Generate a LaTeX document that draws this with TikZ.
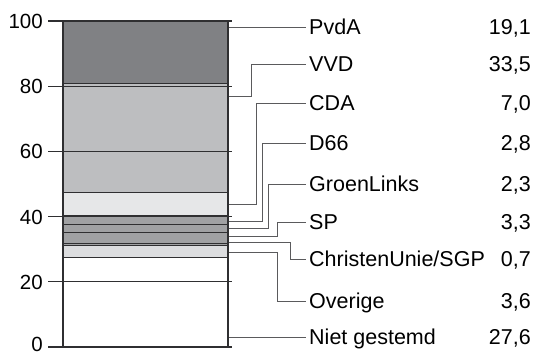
\documentclass[tikz,border=0pt]{standalone}
\usepackage{fontspec}
\setmainfont{Liberation Sans}
\definecolor{cPvdA}{HTML}{808184}
\definecolor{cVVD}{HTML}{BDBEC0}
\definecolor{cCDA}{HTML}{E6E7E8}
\definecolor{cMid}{HTML}{A0A1A3}
\definecolor{cOv}{HTML}{DCDDDF}
\definecolor{cLine}{HTML}{2F2F31}
\definecolor{cConn}{HTML}{5A5A5C}
\begin{document}
\begin{tikzpicture}[x=1pt,y=-1pt,
  seg/.style={draw=cLine,line width=1pt},
  tick/.style={draw=cLine,line width=1.3pt},
  conn/.style={draw=cConn,line width=1pt},
  lab/.style={anchor=west,inner sep=0pt,font=\fontsize{21.5}{21.5}\selectfont,text height=15pt,text depth=0pt},
  val/.style={anchor=east,inner sep=0pt,font=\fontsize{21.5}{21.5}\selectfont,text height=15pt,text depth=0pt},
  axl/.style={anchor=east,inner sep=0pt,font=\fontsize{20.5}{20.5}\selectfont,text height=15pt,text depth=0pt}]
\useasboundingbox (0,0) rectangle (534,354);
% v -> 347 - 3.26 v
\def\Y#1{\fpeval{347-3.26*(#1)}}
% segments
\fill[white]  (63,\Y{0})    rectangle (228,\Y{27.6});
\fill[cOv]    (63,\Y{27.6}) rectangle (228,\Y{31.2});
\fill[cMid]   (63,\Y{31.2}) rectangle (228,\Y{40.3});
\fill[cCDA]   (63,\Y{40.3}) rectangle (228,\Y{47.3});
\fill[cVVD]   (63,\Y{47.3}) rectangle (228,\Y{80.8});
\fill[cPvdA]  (63,\Y{80.8}) rectangle (228,\Y{100});
\foreach \v in {27.6,31.2,31.9,35.2,37.5,40.3,47.3,80.8}
  \draw[seg] (63,\Y{\v}) -- (228,\Y{\v});
\foreach \v in {20,40,60,80}
  \draw[tick] (48,\Y{\v}) -- (232,\Y{\v});
\draw[tick] (48,\Y{100}) -- (232,\Y{100});
\draw[draw=cLine,line width=2pt] (48,\Y{0}) -- (232,\Y{0});
\draw[draw=cLine,line width=1.3pt] (63,\Y{0}) -- (63,\Y{100});
\draw[draw=cLine,line width=1.3pt] (228,\Y{0}) -- (228,\Y{100});
% axis labels
\foreach \v in {20,40,60,80,100}
  \node[axl] (ax\v) at (43,\Y{\v}) {\v};
\node[axl] (ax0) at (43,343.5) {0};
% labels
\node[lab] (lPvdA) at (309,27)  {PvdA};
\node[lab] (lVVD)  at (309,64)  {VVD};
\node[lab] (lCDA)  at (309,103) {CDA};
\node[lab] (lD)    at (309,143) {D66};
\node[lab] (lGL)   at (309,184) {GroenLinks};
\node[lab] (lSP)   at (309,222) {SP};
\node[lab] (lCU)   at (309,259) {ChristenUnie/SGP};
\node[lab] (lOv)   at (309,301) {Overige};
\node[lab] (lNG)   at (309,337) {Niet gestemd};
\node[val] (vPvdA) at (531,27)  {19,1};
\node[val] (vVVD)  at (531,64)  {33,5};
\node[val] (vCDA)  at (531,103) {7,0};
\node[val] (vD)    at (531,143) {2,8};
\node[val] (vGL)   at (531,184) {2,3};
\node[val] (vSP)   at (531,222) {3,3};
\node[val] (vCU)   at (531,259) {0,7};
\node[val] (vOv)   at (531,301) {3,6};
\node[val] (vNG)   at (531,337) {27,6};
% attach points
\coordinate (aPvdA) at (229,27);
\coordinate (aVVD)  at (229,96);
\coordinate (aCDA)  at (229,204.5);
\coordinate (aD)    at (229,221);
\coordinate (aGL)   at (229,228.5);
\coordinate (aSP)   at (229,236.5);
\coordinate (aCU)   at (229,242);
\coordinate (aOv)   at (229,252.5);
\coordinate (aNG)   at (229,337);
\draw[conn] (aPvdA) -- ([xshift=-3pt]lPvdA.west);
\draw[conn] (aVVD) -- ++(22,0) |- ([xshift=-3pt]lVVD.west);
\draw[conn] (aCDA) -- ++(27,0) |- ([xshift=-3pt]lCDA.west);
\draw[conn] (aD)   -- ++(33,0) |- ([xshift=-3pt]lD.west);
\draw[conn] (aGL)  -- ++(39,0) |- ([xshift=-3pt]lGL.west);
\draw[conn] (aSP)  -- ++(48,0) |- ([xshift=-3pt]lSP.west);
\draw[conn] (aCU)  -- ++(61,0) |- ([xshift=-3pt]lCU.west);
\draw[conn] (aOv)  -- ++(48,0) |- ([xshift=-3pt]lOv.west);
\draw[conn] (aNG)  -- ([xshift=-3pt]lNG.west);
\end{tikzpicture}
\end{document}
